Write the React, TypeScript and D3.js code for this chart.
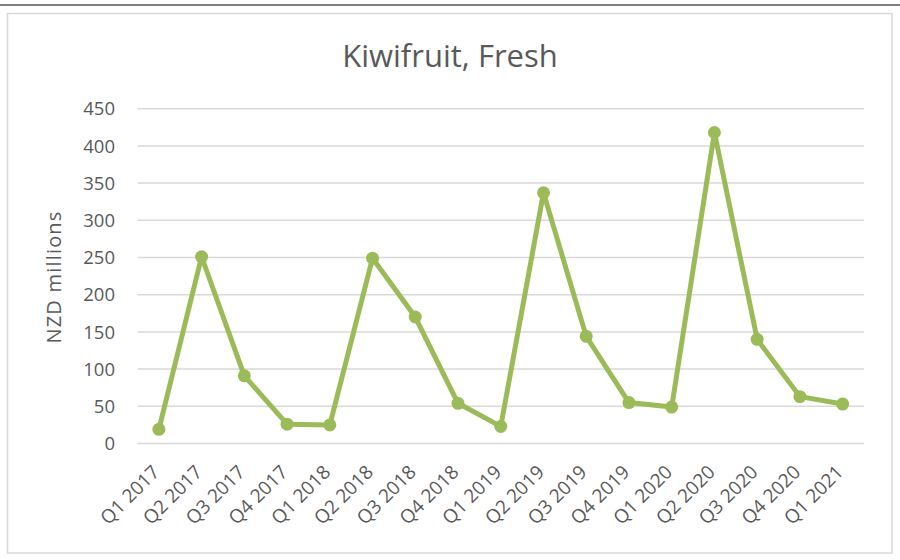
import * as d3 from 'd3';

const quarters = [
  'Q1 2017', 'Q2 2017', 'Q3 2017', 'Q4 2017',
  'Q1 2018', 'Q2 2018', 'Q3 2018', 'Q4 2018',
  'Q1 2019', 'Q2 2019', 'Q3 2019', 'Q4 2019',
  'Q1 2020', 'Q2 2020', 'Q3 2020', 'Q4 2020',
  'Q1 2021',
];
const exportValues = [19, 251, 91, 26, 25, 249, 170, 54, 23, 337, 144, 55, 49, 418, 140, 63, 53];
const yTicks = [0, 50, 100, 150, 200, 250, 300, 350, 400, 450];

const W = 900;
const H = 560;
const plot = { left: 137.5, right: 864, top: 108.7, bottom: 443.5 };
const GREEN = '#9bbb59';
const TEXT = '#595959';
const FONT = '"Open Sans", sans-serif';

export default function App() {
  const x = d3.scaleBand().domain(quarters).range([plot.left, plot.right]);
  const y = d3.scaleLinear().domain([0, 450]).range([plot.bottom, plot.top]);
  const cx = (q: string) => x(q)! + x.bandwidth() / 2;

  const line = d3.line<number>()
    .x((_, i) => cx(quarters[i]))
    .y(d => y(d));

  return (
    <div style={{ position: 'fixed', left: 0, top: 0, width: W, height: H, background: '#fff' }}>
      <svg width={W} height={H} style={{ display: 'block' }}>
        {/* page rule and chart frame */}
        <line x1={0} x2={W} y1={5} y2={5} stroke="#000" strokeWidth={1.2} />
        <rect x={7.5} y={13.5} width={884.5} height={539.5} fill="#fff" stroke="#d9d9d9" strokeWidth={1.5} />

        <text x={450} y={67} textAnchor="middle" fill={TEXT} fontFamily={FONT} fontSize={31}>
          Kiwifruit, Fresh
        </text>

        {/* gridlines + y labels */}
        {yTicks.map(t => (
          <g key={t}>
            <line x1={plot.left} x2={plot.right} y1={y(t)} y2={y(t)} stroke="#d9d9d9" strokeWidth={1.5} />
            <text x={115} y={y(t)} dy="0.36em" textAnchor="end" fill={TEXT} fontFamily={FONT} fontSize={18.5}>
              {t}
            </text>
          </g>
        ))}

        <text
          transform={`translate(54,277) rotate(-90)`}
          textAnchor="middle"
          dy="0.36em"
          fill={TEXT}
          fontFamily={FONT}
          fontSize={20}
          letterSpacing={1.2}
        >
          NZD millions
        </text>

        {/* x labels rotated */}
        {quarters.map(q => (
          <text
            key={q}
            transform={`translate(${cx(q) - 3},${plot.bottom + 25}) rotate(-45)`}
            textAnchor="end"
            dy="0.36em"
            fill={TEXT}
            fontFamily={FONT}
            fontSize={19}
          >
            {q}
          </text>
        ))}

        <path d={line(exportValues)!} fill="none" stroke={GREEN} strokeWidth={5} strokeLinejoin="round" strokeLinecap="round" />
        {exportValues.map((v, i) => (
          <circle key={quarters[i]} cx={cx(quarters[i])} cy={y(v)} r={6.5} fill={GREEN} />
        ))}
      </svg>
    </div>
  );
}
